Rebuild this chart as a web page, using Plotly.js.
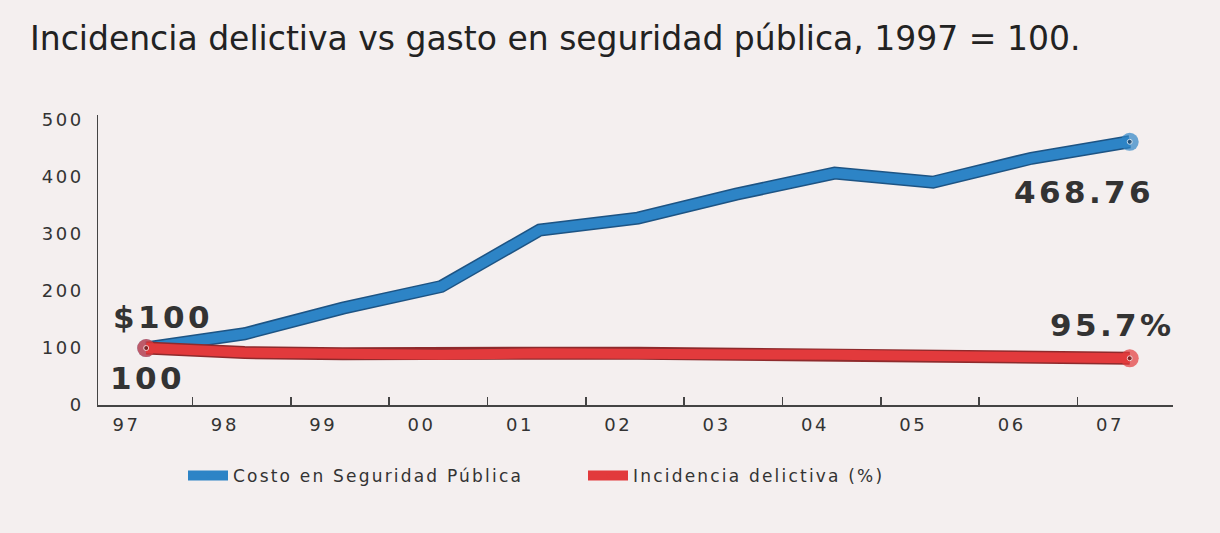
<!DOCTYPE html>
<html>
<head>
<meta charset="utf-8">
<script src="https://cdn.plot.ly/plotly-3.0.1.min.js"></script>
<style>
html,body{margin:0;padding:0;background:#ffffff;}
#chart{width:1220px;height:533px;}
.xtick text, .ytick text { letter-spacing: 2.6px; }
.annotation-text { letter-spacing: 3.4px; }
.legendtext { letter-spacing: 2.2px; }
</style>
</head>
<body>
<div id="chart"></div>
<script>
// Data (1997 = 100)
const years = ["97","98","99","00","01","02","03","04","05","06","07"];
const costoSeguridad = [100, 125, 170, 208, 307, 328, 370, 407, 391, 433, 462];
const incidencia = [100, 92, 90, 88, 91, 91, 89, 88, 86, 84, 82];
const seriesNames = ["Costo en Seguridad Pública", "Incidencia delictiva (%)"];
const endLabelsCosto = ["$100", "468.76"];
const endLabelsIncidencia = ["100", "95.7%"];

const xIdx = years.map((_, i) => i);
const n = years.length;
const endSizes = years.map((_, i) => (i === 0 || i === n - 1) ? 18 : 0);
const dotSizes = years.map((_, i) => (i === 0 || i === n - 1) ? 5 : 0);

const BLUE = "#2d84c6", BLUE_D = "#1d5484";
const RED = "#e23a3c", RED_D = "#8e2a2c";

const traces = [
  {x: xIdx, y: costoSeguridad, mode: "lines", line: {color: BLUE_D, width: 13}, showlegend: false, hoverinfo: "skip"},
  {x: xIdx, y: costoSeguridad, mode: "lines+markers", name: seriesNames[0],
   line: {color: BLUE, width: 10}, marker: {size: endSizes, color: BLUE, line: {width: 0}}},
  {x: xIdx, y: costoSeguridad, mode: "markers", showlegend: false, hoverinfo: "skip",
   marker: {size: dotSizes, color: "#1b3a5a"}},
  {x: xIdx, y: incidencia, mode: "lines", line: {color: RED_D, width: 13}, showlegend: false, hoverinfo: "skip"},
  {x: xIdx, y: incidencia, mode: "lines+markers", name: seriesNames[1],
   line: {color: RED, width: 10}, marker: {size: endSizes, color: RED, line: {width: 0}}},
  {x: xIdx, y: incidencia, mode: "markers", showlegend: false, hoverinfo: "skip",
   marker: {size: dotSizes, color: "#5a1a1a"}}
];

const labelFont = {family: "DejaVu Sans", size: 31, color: "#333333", weight: "bold"};
const annotations = [
  {x: 0, y: costoSeguridad[0], text: "<b>" + endLabelsCosto[0] + "</b>", showarrow: false, xshift: 17, yshift: 31, font: labelFont},
  {x: 0, y: incidencia[0], text: "<b>" + endLabelsIncidencia[0] + "</b>", showarrow: false, xshift: 1, yshift: -30, font: labelFont},
  {x: n - 1, y: costoSeguridad[n - 1], text: "<b>" + endLabelsCosto[1] + "</b>", showarrow: false, xshift: -46, yshift: -50, font: labelFont},
  {x: n - 1, y: incidencia[n - 1], text: "<b>" + endLabelsIncidencia[1] + "</b>", showarrow: false, xshift: -17, yshift: 33, font: labelFont}
];

const layout = {
  width: 1220, height: 533,
  paper_bgcolor: "#f4efef", plot_bgcolor: "rgba(0,0,0,0)",
  margin: {l: 98, r: 47, t: 115, b: 128},
  font: {family: "DejaVu Sans", color: "#333333"},
  title: {
    text: "Incidencia delictiva vs gasto en seguridad pública, 1997 = 100.",
    font: {family: "DejaVu Sans", size: 33, color: "#222222"},
    xref: "container", yref: "container", x: 30 / 1220, xanchor: "left",
    y: 1 - 38 / 533, yanchor: "middle"
  },
  xaxis: {
    range: [-0.49, 10.44],
    tickmode: "array", tickvals: xIdx.map(i => i - 0.2), ticktext: years,
    ticks: "", showgrid: false, zeroline: false,
    showline: true, linecolor: "#444444", linewidth: 1.5,
    tickfont: {family: "DejaVu Sans", size: 18, color: "#333333"},
    ticklabelstandoff: 3,
    minor: {tick0: 0.47, dtick: 1, ticks: "inside", ticklen: 8, tickwidth: 1.5, tickcolor: "#444444", showgrid: false}
  },
  yaxis: {
    range: [0, 509], tickvals: [0, 100, 200, 300, 400, 500],
    ticks: "", showgrid: false, zeroline: false,
    showline: true, linecolor: "#444444", linewidth: 1.5,
    tickfont: {family: "DejaVu Sans", size: 18, color: "#333333"},
    ticklabelstandoff: 9
  },
  legend: {
    orientation: "h", xref: "container", yref: "container",
    x: 183 / 1220, xanchor: "left", y: 1 - 476 / 533, yanchor: "middle",
    font: {family: "DejaVu Sans", size: 17, color: "#333333"},
    itemwidth: 40,
    entrywidth: 345, entrywidthmode: "pixels", bgcolor: "rgba(0,0,0,0)"
  },
  annotations: annotations,
  showlegend: true
};

Plotly.newPlot("chart", traces, layout, {staticPlot: true});
</script>
</body>
</html>
